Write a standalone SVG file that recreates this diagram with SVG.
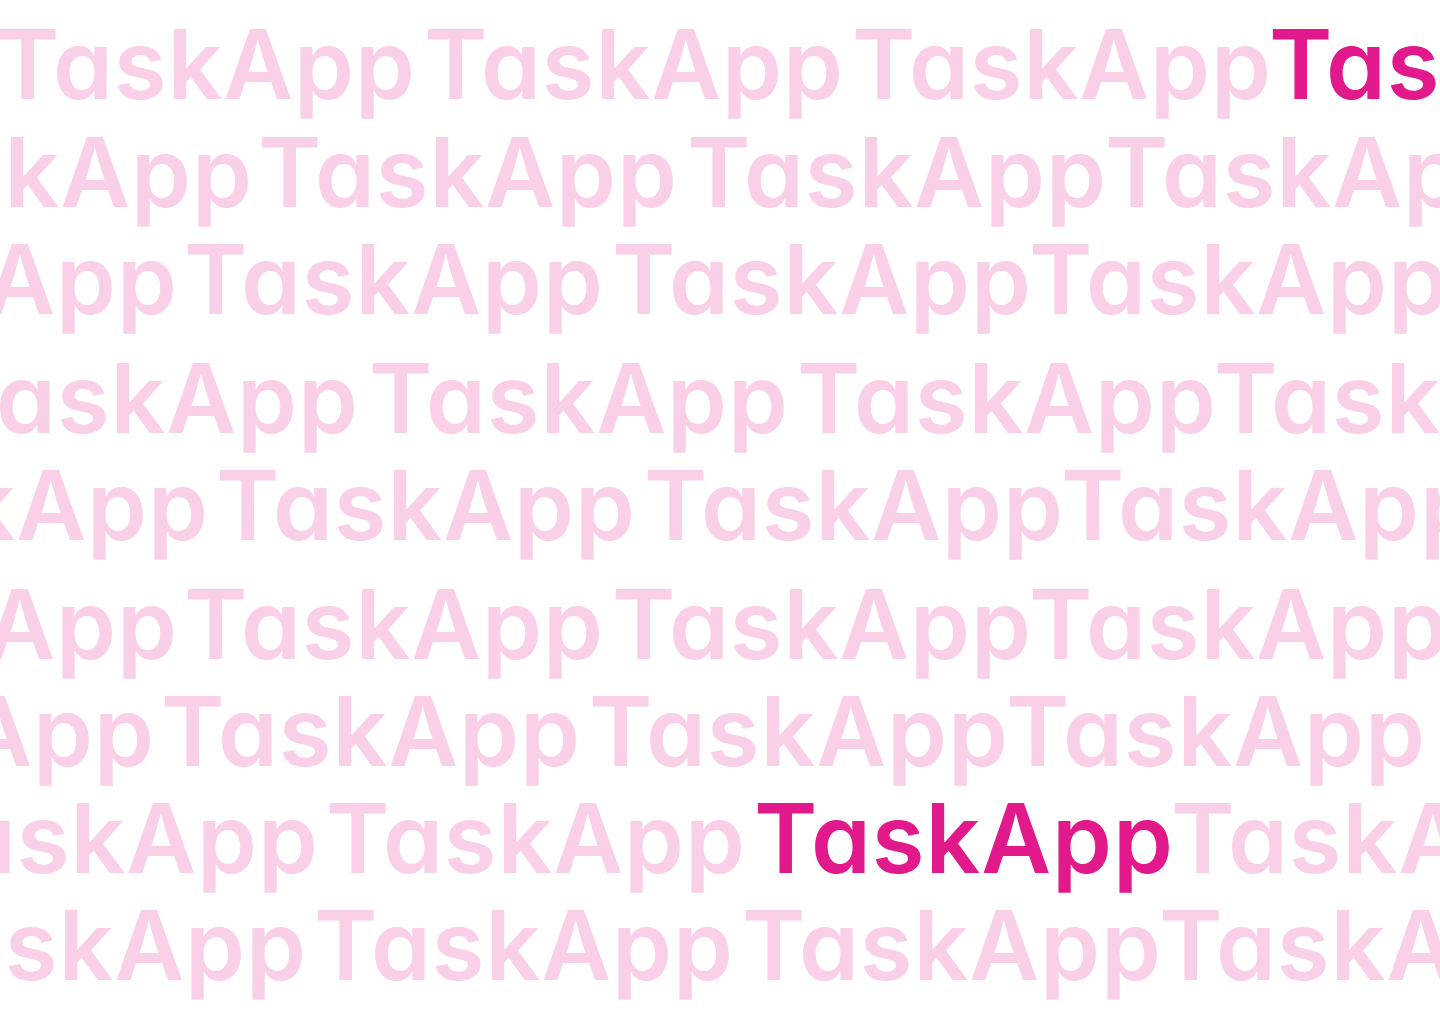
<svg xmlns="http://www.w3.org/2000/svg" width="1440" height="1024" viewBox="0 0 1440 1024">
<style>
text{font-family:Inter,"Noto Sans",sans-serif;font-weight:600;font-size:96px;letter-spacing:1px;font-feature-settings:"cv11" 1;fill:#F9D0E8}
text.hl{fill:#E2198B}
</style>
<rect width="1440" height="1024" fill="#FFFFFF"/>
<g id="row1" transform="translate(-4,0)"><text x="0" y="99">TaskApp</text><text x="428" y="99">TaskApp</text><text x="856" y="99">TaskApp</text><text class="hl" x="1273" y="99">TaskApp</text></g>
<g id="row2" transform="translate(-4,0)"><text x="-163" y="207">TaskApp</text><text x="262" y="207">TaskApp</text><text x="691" y="207">TaskApp</text><text x="1109" y="207">TaskApp</text></g>
<g id="row3" transform="translate(-4,0)"><text x="-238" y="314">TaskApp</text><text x="188" y="314">TaskApp</text><text x="616" y="314">TaskApp</text><text x="1033" y="314">TaskApp</text></g>
<g id="row4" transform="translate(-4,0)"><text x="-57" y="433">TaskApp</text><text x="373" y="433">TaskApp</text><text x="801" y="433">TaskApp</text><text x="1218" y="433">TaskApp</text></g>
<g id="row5" transform="translate(-4,0)"><text x="-207" y="540">TaskApp</text><text x="220" y="540">TaskApp</text><text x="648" y="540">TaskApp</text><text x="1065" y="540">TaskApp</text></g>
<g id="row6" transform="translate(-4,0)"><text x="-238" y="659">TaskApp</text><text x="188" y="659">TaskApp</text><text x="616" y="659">TaskApp</text><text x="1033" y="659">TaskApp</text></g>
<g id="row7" transform="translate(-4,0)"><text x="-261" y="766">TaskApp</text><text x="165" y="766">TaskApp</text><text x="593" y="766">TaskApp</text><text x="1010" y="766">TaskApp</text></g>
<g id="row8" transform="translate(-4,0)"><text x="-97" y="873">TaskApp</text><text x="330" y="873">TaskApp</text><text class="hl" x="758" y="873">TaskApp</text><text x="1175" y="873">TaskApp</text></g>
<g id="row9" transform="translate(-4,0)"><text x="-109" y="980">TaskApp</text><text x="318" y="980">TaskApp</text><text x="746" y="980">TaskApp</text><text x="1163" y="980">TaskApp</text></g>
</svg>
